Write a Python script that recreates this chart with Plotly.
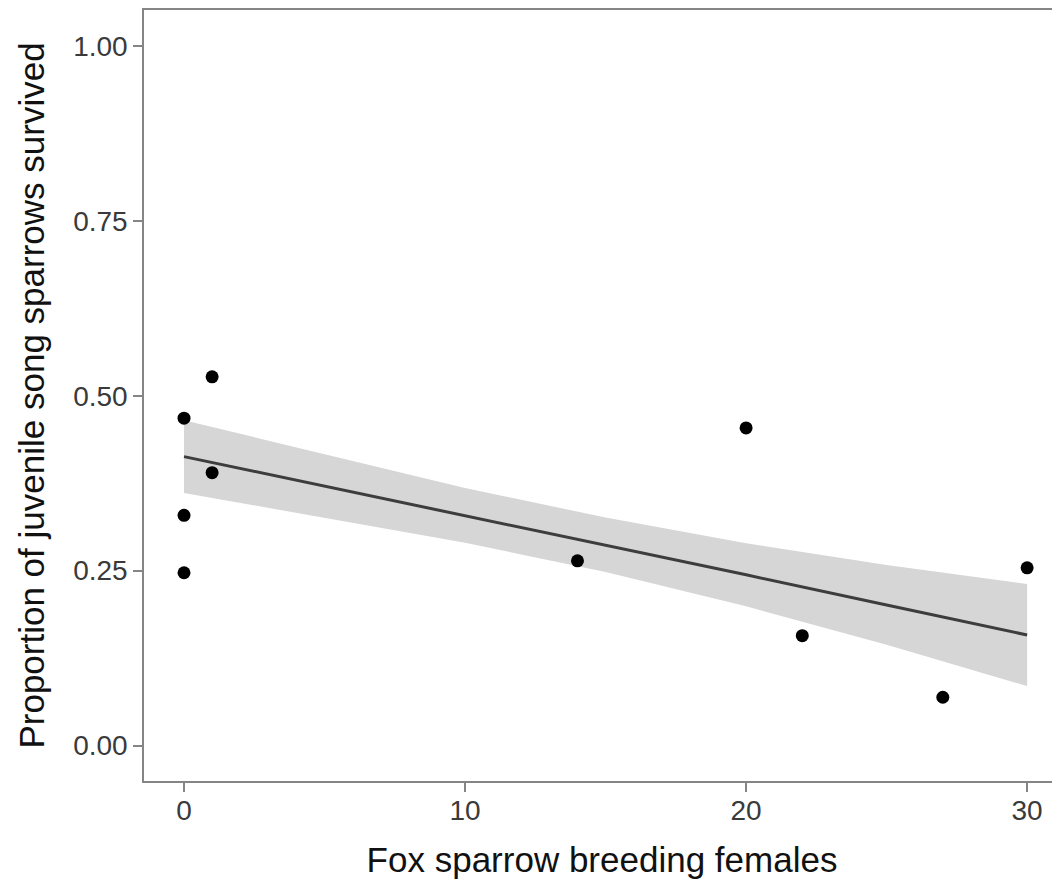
import plotly.graph_objects as go

# Observed data
fox_females = [0, 0, 0, 1, 1, 14, 20, 22, 27, 30]
prop_survived = [0.468, 0.329, 0.247, 0.527, 0.390, 0.264, 0.454, 0.157, 0.069, 0.254]

# Fitted line and confidence band
fit_x = [0, 5, 10, 15, 20, 25, 30]
fit_y = [0.413, 0.371, 0.329, 0.287, 0.244, 0.201, 0.158]
band_upper = [0.465, 0.416, 0.368, 0.326, 0.289, 0.258, 0.231]
band_lower = [0.361, 0.326, 0.290, 0.248, 0.199, 0.144, 0.085]

x_ticks = [0, 10, 20, 30]
y_ticks = [0.00, 0.25, 0.50, 0.75, 1.00]

fig = go.Figure()
fig.add_trace(go.Scatter(x=fit_x + fit_x[::-1], y=band_upper + band_lower[::-1],
                         fill="toself", fillcolor="rgb(214,214,214)",
                         line=dict(width=0), mode="lines", hoverinfo="skip", showlegend=False))
fig.add_trace(go.Scatter(x=fit_x, y=fit_y, mode="lines",
                         line=dict(color="#3d3d3d", width=3), showlegend=False))
fig.add_trace(go.Scatter(x=fox_females, y=prop_survived, mode="markers",
                         marker=dict(color="black", size=13), showlegend=False))

axis_font = dict(family="Liberation Sans, Arial, sans-serif", size=28, color="#3a3a3a")
title_font = dict(family="Liberation Sans, Arial, sans-serif", size=35, color="#111111")

fig.update_layout(
    width=1052, height=878,
    margin=dict(l=136, r=0, t=2, b=105, autoexpand=False),
    plot_bgcolor="white", paper_bgcolor="white",
    xaxis=dict(range=[-1.424, 31.17], tickvals=x_ticks, ticktext=[str(v) for v in x_ticks],
               showgrid=False, zeroline=False, showline=True, mirror=True,
               linecolor="#858585", linewidth=1.5, ticks="outside", ticklen=9,
               tickcolor="#858585", tickwidth=1.5, tickfont=axis_font, ticklabelstandoff=-5,
               title=dict(text="Fox sparrow breeding females", font=title_font, standoff=22)),
    yaxis=dict(range=[-0.0507, 1.0514], tickvals=y_ticks, ticktext=[f"{v:.2f}" for v in y_ticks],
               showgrid=False, zeroline=False, showline=True, mirror=False,
               linecolor="#858585", linewidth=1.5, ticks="outside", ticklen=9,
               tickcolor="#858585", tickwidth=1.5, tickfont=axis_font,
               title=dict(text="Proportion of juvenile song sparrows survived", font=title_font, standoff=18)),
)

fig.write_html("out.html")
